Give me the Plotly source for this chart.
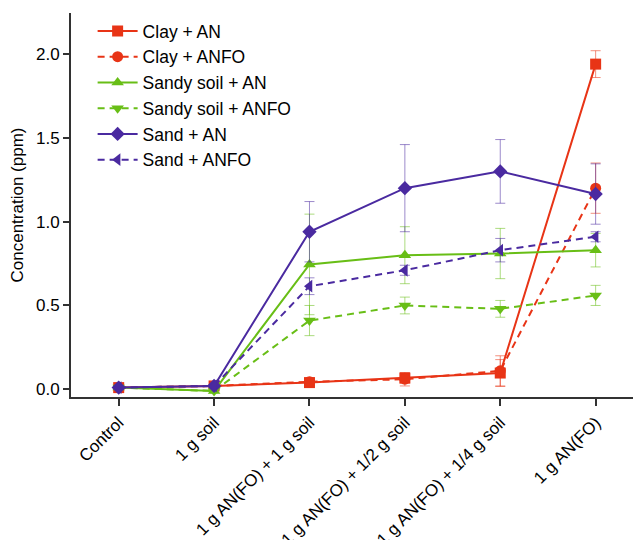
import plotly.graph_objects as go

categories = ["Control", "1 g soil", "1 g AN(FO) + 1 g soil", "1 g AN(FO) + 1/2 g soil",
              "1 g AN(FO) + 1/4 g soil", "1 g AN(FO)"]

clay_an = [0.01, 0.02, 0.04, 0.067, 0.097, 1.94]
clay_an_err = [0.01, 0.01, 0.02, 0.03, 0.08, 0.08]
clay_anfo = [0.01, 0.02, 0.045, 0.06, 0.11, 1.20]
clay_anfo_err = [0.01, 0.01, 0.02, 0.04, 0.09, 0.15]
sandy_an = [0.01, -0.01, 0.745, 0.80, 0.81, 0.83]
sandy_an_err = [0.01, 0.01, 0.30, 0.17, 0.15, 0.10]
sandy_anfo = [0.01, -0.01, 0.41, 0.50, 0.48, 0.56]
sandy_anfo_err = [0.01, 0.01, 0.09, 0.05, 0.05, 0.06]
sand_an = [0.01, 0.02, 0.94, 1.20, 1.30, 1.165]
sand_an_err = [0.01, 0.01, 0.18, 0.26, 0.19, 0.18]
sand_anfo = [0.01, 0.02, 0.615, 0.71, 0.83, 0.91]
sand_anfo_err = [0.01, 0.01, 0.05, 0.03, 0.07, 0.03]

RED = "rgb(232,52,22)"
GREEN = "rgb(104,190,22)"
PURPLE = "rgb(74,42,160)"

series = [
    ("Clay + AN", clay_an, clay_an_err, RED, "solid", "square"),
    ("Clay + ANFO", clay_anfo, clay_anfo_err, RED, "7px,5px", "circle"),
    ("Sandy soil + AN", sandy_an, sandy_an_err, GREEN, "solid", "triangle-up"),
    ("Sandy soil + ANFO", sandy_anfo, sandy_anfo_err, GREEN, "7px,5px", "triangle-down"),
    ("Sand + AN", sand_an, sand_an_err, PURPLE, "solid", "diamond"),
    ("Sand + ANFO", sand_anfo, sand_anfo_err, PURPLE, "7px,5px", "triangle-left"),
]

def fade(c, a=0.55):
    return c.replace("rgb", "rgba").replace(")", f",{a})")

xs = list(range(len(categories)))
fig = go.Figure()
for name, ys, errs, color, dash, sym in series:
    fig.add_trace(go.Scatter(
        x=xs, y=ys, name=name, mode="lines+markers",
        line=dict(color=color, width=2, dash=dash),
        marker=dict(symbol=sym, size=11, color=color),
        error_y=dict(type="data", array=errs, visible=True, color=fade(color),
                     thickness=1, width=5),
    ))

font = "Liberation Sans, Arial, sans-serif"
fig.update_layout(
    width=641, height=540,
    margin=dict(l=63, r=9, t=5, b=151),
    plot_bgcolor="white", paper_bgcolor="white",
    font=dict(family=font, size=16, color="black"),
    showlegend=True,
    legend=dict(x=0.038, y=1.0, xanchor="left", yanchor="top",
                bgcolor="rgba(0,0,0,0)", font=dict(size=17.5), tracegroupgap=0,
                itemwidth=40),
    xaxis=dict(range=[-0.5, 5.465], tickmode="array", tickvals=xs, ticktext=categories,
               tickangle=-45, showgrid=False, zeroline=False, showline=True, automargin=False,
               linecolor="rgb(50,50,50)", linewidth=2, ticks="outside", ticklen=7,
               tickwidth=2, tickcolor="rgb(50,50,50)", tickfont=dict(size=17)),
    yaxis=dict(range=[-0.046, 2.245], tickvals=[0, 0.5, 1.0, 1.5, 2.0],
               ticktext=["0.0", "0.5", "1.0", "1.5", "2.0"], automargin=False,
               showgrid=False, zeroline=False, showline=True,
               linecolor="rgb(50,50,50)", linewidth=2, ticks="outside", ticklen=6,
               tickwidth=2, tickcolor="rgb(50,50,50)", tickfont=dict(size=17),
               title=dict(text="Concentration (ppm)", font=dict(size=17), standoff=8)),
)
fig.write_html("out.html")
